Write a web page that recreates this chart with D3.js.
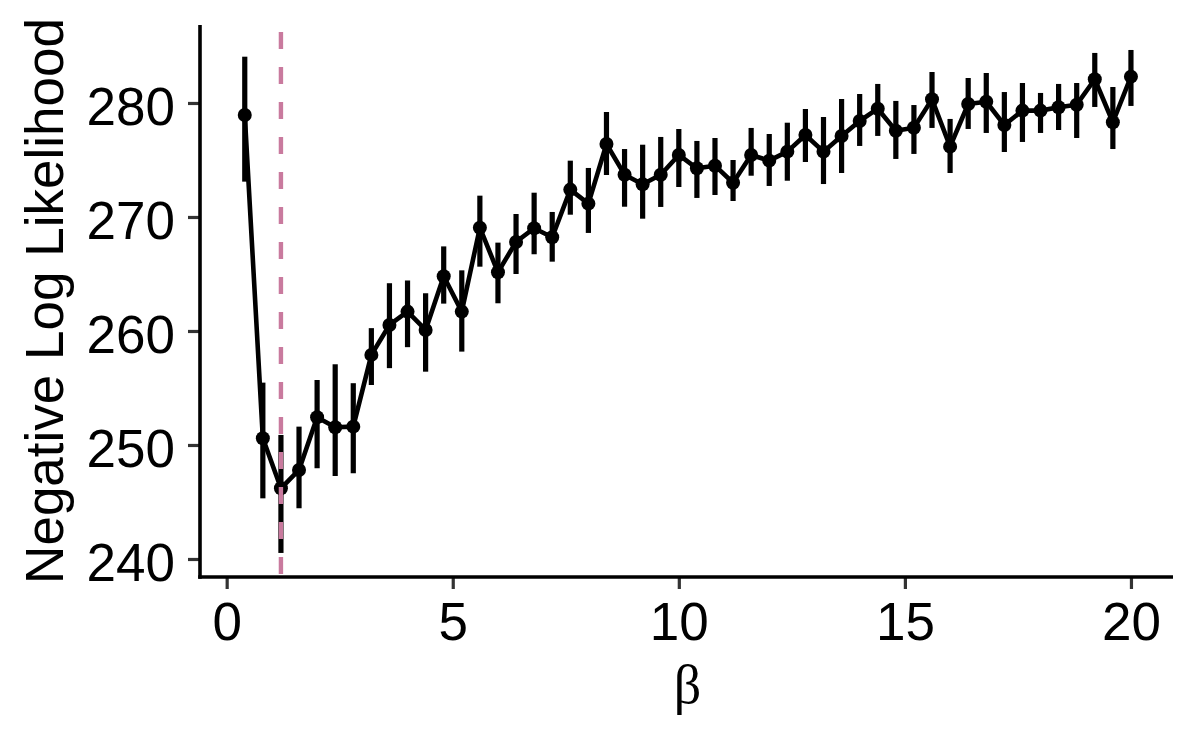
<!DOCTYPE html>
<html>
<head>
<meta charset="utf-8">
<script src="https://cdn.jsdelivr.net/npm/d3@7"></script>
<style>
  html, body { margin: 0; padding: 0; background: #fff; }
  svg { display: block; }
</style>
</head>
<body>
<script>
// ---- data ----
const beta = [0.4,0.8,1.2,1.6,2.0,2.4,2.8,3.2,3.6,4.0,4.4,4.8,5.2,5.6,6.0,6.4,6.8,7.2,7.6,8.0,
              8.4,8.8,9.2,9.6,10.0,10.4,10.8,11.2,11.6,12.0,12.4,12.8,13.2,13.6,14.0,14.4,14.8,15.2,15.6,16.0,
              16.4,16.8,17.2,17.6,18.0,18.4,18.8,19.2,19.6,20.0];
const nll = [278.95,250.59,246.20,247.81,252.43,251.55,251.61,257.90,260.53,261.70,
             260.09,264.80,261.70,269.06,265.15,267.81,269.01,268.22,272.40,271.17,
             276.40,273.71,272.87,273.71,275.44,274.27,274.50,273.00,275.44,274.94,
             275.73,277.19,275.73,277.10,278.42,279.50,277.57,277.83,280.33,276.17,
             279.91,280.11,278.07,279.33,279.33,279.62,279.85,282.08,278.31,282.31];
const upper = [284.06,255.47,250.88,251.61,255.70,257.08,255.42,260.25,264.19,264.43,
               263.31,267.42,265.32,271.87,267.75,270.26,272.13,270.44,274.94,274.30,
               279.21,275.96,276.34,277.02,277.72,276.67,276.93,275.00,277.81,277.28,
               278.27,279.47,278.77,280.35,280.79,281.67,280.18,279.82,282.72,278.60,
               282.19,282.63,280.96,281.75,280.88,281.67,281.75,284.39,281.40,284.65];
const lower = [273.10,245.32,240.53,244.45,247.96,247.28,247.52,255.26,256.74,258.58,
               256.43,262.40,258.19,265.64,262.43,265.00,266.73,266.08,270.20,268.60,
               273.68,270.90,269.85,270.88,272.63,271.67,271.93,271.40,273.62,272.72,
               273.18,274.82,272.89,273.86,276.23,277.11,275.09,275.53,277.81,273.86,
               277.72,277.37,275.70,276.58,277.37,277.63,276.93,279.65,275.96,279.74];
const bestBeta = 1.2;
const xTicks = [0, 5, 10, 15, 20];
const yTicks = [240, 250, 260, 270, 280];
const xLabel = "β";
const yLabel = "Negative Log Likelihood";

// ---- layout ----
const W = 1200, H = 750;
const panel = {left: 200, right: 1173, top: 25, bottom: 577};

const svg = d3.select("body").append("svg")
  .attr("width", W).attr("height", H)
  .style("font-family", "'Liberation Sans', Arial, sans-serif");
svg.append("rect").attr("width", W).attr("height", H).attr("fill", "#fff");

const x = d3.scaleLinear().domain([-0.59, 20.93]).range([panel.left, panel.right]);
const y = d3.scaleLinear().domain([238.42, 286.84]).range([panel.bottom, panel.top]);

const data = beta.map((b, i) => ({b, v: nll[i], lo: lower[i], hi: upper[i]}));

// connecting line
svg.append("path")
  .datum(data)
  .attr("fill", "none")
  .attr("stroke", "#000")
  .attr("stroke-width", 4.6)
  .attr("stroke-linejoin", "round")
  .attr("d", d3.line().x(d => x(d.b)).y(d => y(d.v)));

// error bars
svg.append("g").selectAll("line").data(data).join("line")
  .attr("x1", d => x(d.b)).attr("x2", d => x(d.b))
  .attr("y1", d => y(d.lo)).attr("y2", d => y(d.hi))
  .attr("stroke", "#000").attr("stroke-width", 5.2);

// points
svg.append("g").selectAll("circle").data(data).join("circle")
  .attr("cx", d => x(d.b)).attr("cy", d => y(d.v))
  .attr("r", 7).attr("fill", "#000");

// dashed vertical line at best beta
svg.append("line")
  .attr("x1", x(bestBeta)).attr("x2", x(bestBeta))
  .attr("y1", panel.bottom - 3).attr("y2", panel.top)
  .attr("stroke", "#C97A9E").attr("stroke-width", 4.4)
  .attr("stroke-dasharray", "17 18");

// axes
const fs = 53;
const xAxis = svg.append("g")
  .attr("transform", `translate(0,${panel.bottom})`)
  .call(d3.axisBottom(x).tickValues(xTicks).tickSize(12).tickSizeOuter(0).tickPadding(13).tickFormat(d3.format("d")));
const yAxis = svg.append("g")
  .attr("transform", `translate(${panel.left},0)`)
  .call(d3.axisLeft(y).tickValues(yTicks).tickSize(12).tickSizeOuter(0).tickPadding(13).tickFormat(d3.format("d")));

[xAxis, yAxis].forEach(g => {
  g.select(".domain").remove();
  g.selectAll(".tick line").attr("stroke", "#333").attr("stroke-width", 3.2);
  g.selectAll(".tick text").attr("fill", "#000").attr("font-size", fs)
    .attr("font-family", "'Liberation Sans', Arial, sans-serif");
});
yAxis.selectAll(".tick text").attr("dy", "0.4em");

// axis lines
svg.append("line")
  .attr("x1", panel.left).attr("x2", panel.left)
  .attr("y1", panel.top).attr("y2", panel.bottom + 1.8)
  .attr("stroke", "#000").attr("stroke-width", 3.6);
svg.append("line")
  .attr("x1", panel.left - 1.8).attr("x2", panel.right)
  .attr("y1", panel.bottom).attr("y2", panel.bottom)
  .attr("stroke", "#000").attr("stroke-width", 3.6);

// axis titles
svg.append("text")
  .attr("x", (panel.left + panel.right) / 2 + 1)
  .attr("y", 703)
  .attr("text-anchor", "middle")
  .attr("font-family", "'Liberation Serif', 'DejaVu Serif', serif")
  .attr("font-size", 54)
  .attr("fill", "#000")
  .text(xLabel);

svg.append("text")
  .attr("transform", `translate(63,${(panel.top + panel.bottom) / 2}) rotate(-90)`)
  .attr("text-anchor", "middle")
  .attr("font-size", 53)
  .attr("fill", "#000")
  .text(yLabel);
</script>
</body>
</html>
